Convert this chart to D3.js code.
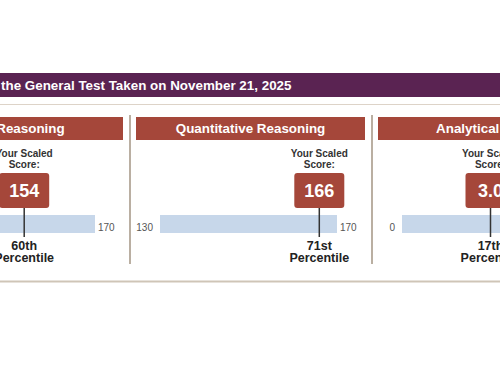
<!DOCTYPE html>
<html>
<head>
<meta charset="utf-8">
<script src="https://cdn.jsdelivr.net/npm/d3@7"></script>
<style>
	html, body { margin: 0; padding: 0; background: #fff; }
	svg { display: block; font-family: Arial, "Liberation Sans", sans-serif; }
</style>
</head>
<body>
<svg id="chart" width="500" height="383"></svg>
<script>
// data
const sections = ['Verbal Reasoning', 'Quantitative Reasoning', 'Analytical Writing']
const scores = [154, 166, 3.0]
const scoreLabels = ['154', '166', '3.0']
const scaleMins = [130, 130, 0]
const scaleMaxs = [170, 170, 6]
const percentiles = ['60th', '71st', '17th']
const title = 'the General Test Taken on November 21, 2025'

const width = 500, height = 383
const purple = '#5a2352', rust = '#a5473a', barBlue = '#c7d7ea'
const panelW = 229, pitch = 242
const barInset = 24, barW = 177

const svg = d3.select('#chart')

// panel left edges
let panelX = d3.scaleLinear().domain([0, 1]).range([-106, -106 + pitch])

// banner
svg.append('rect')
	.attr('x', 0).attr('y', 73)
	.attr('width', width).attr('height', 24)
	.attr('fill', purple)
svg.append('text')
	.attr('x', 1).attr('y', 90)
	.attr('fill', '#fff')
	.attr('font-size', 13.4)
	.attr('font-weight', 'bold')
	.text(title)

// thin lines
svg.append('line')
	.attr('x1', 0).attr('x2', width).attr('y1', 104.5).attr('y2', 104.5)
	.attr('stroke', '#ddd3c8').attr('stroke-width', 1)
svg.append('line')
	.attr('x1', 0).attr('x2', width).attr('y1', 281.5).attr('y2', 281.5)
	.attr('stroke', '#cfc5b7').attr('stroke-width', 2)

// dividers between panels
svg.selectAll('line.divider')
	.data([1, 2])
	.join('line')
	.attr('class', 'divider')
	.attr('x1', i => panelX(i) - 6).attr('x2', i => panelX(i) - 6)
	.attr('y1', 115).attr('y2', 264)
	.attr('stroke', '#a39483').attr('stroke-width', 1.5)

const panels = svg.selectAll('g.panel')
	.data(sections.map((name, i) => ({ name, i })))
	.join('g')
	.attr('class', 'panel')
	.attr('transform', d => `translate(${panelX(d.i)},0)`)

panels.each(function (d) {
	let g = d3.select(this)
	let x = d3.scaleLinear()
		.domain([scaleMins[d.i], scaleMaxs[d.i]])
		.range([barInset, barInset + barW])
	let sx = x(scores[d.i])

	// section header
	g.append('rect')
		.attr('x', 0).attr('y', 117)
		.attr('width', panelW).attr('height', 23)
		.attr('fill', rust)
	g.append('text')
		.attr('x', panelW / 2).attr('y', 133)
		.attr('text-anchor', 'middle')
		.attr('fill', '#fff')
		.attr('font-size', 13.4)
		.attr('font-weight', 'bold')
		.text(d.name)

	// scale bar
	g.append('rect')
		.attr('x', x.range()[0]).attr('y', 215)
		.attr('width', x.range()[1] - x.range()[0]).attr('height', 18)
		.attr('fill', barBlue)
	g.append('text')
		.attr('x', x.range()[0] - 7).attr('y', 231)
		.attr('text-anchor', 'end')
		.attr('fill', '#555').attr('font-size', 10)
		.text(scaleMins[d.i])
	g.append('text')
		.attr('x', x.range()[1] + 3).attr('y', 231)
		.attr('fill', '#555').attr('font-size', 10)
		.text(scaleMaxs[d.i])

	// "Your Scaled Score:"
	g.append('text')
		.attr('x', sx).attr('y', 157)
		.attr('text-anchor', 'middle')
		.attr('fill', '#333').attr('font-size', 10).attr('font-weight', 'bold')
		.text('Your Scaled')
	g.append('text')
		.attr('x', sx).attr('y', 168)
		.attr('text-anchor', 'middle')
		.attr('fill', '#333').attr('font-size', 10).attr('font-weight', 'bold')
		.text('Score:')

	// stem + score box
	g.append('line')
		.attr('x1', sx).attr('x2', sx)
		.attr('y1', 205).attr('y2', 237)
		.attr('stroke', '#333').attr('stroke-width', 1.5)
	g.append('rect')
		.attr('x', sx - 25).attr('y', 173)
		.attr('width', 50).attr('height', 35)
		.attr('rx', 3)
		.attr('fill', rust)
	g.append('text')
		.attr('x', sx).attr('y', 197)
		.attr('text-anchor', 'middle')
		.attr('fill', '#fff').attr('font-size', 18).attr('font-weight', 'bold')
		.text(scoreLabels[d.i])

	// percentile
	g.append('text')
		.attr('x', sx).attr('y', 250)
		.attr('text-anchor', 'middle')
		.attr('fill', '#222').attr('font-size', 12.5).attr('font-weight', 'bold')
		.text(percentiles[d.i])
	g.append('text')
		.attr('x', sx).attr('y', 262)
		.attr('text-anchor', 'middle')
		.attr('fill', '#222').attr('font-size', 12.5).attr('font-weight', 'bold')
		.text('Percentile')
})
</script>
</body>
</html>
